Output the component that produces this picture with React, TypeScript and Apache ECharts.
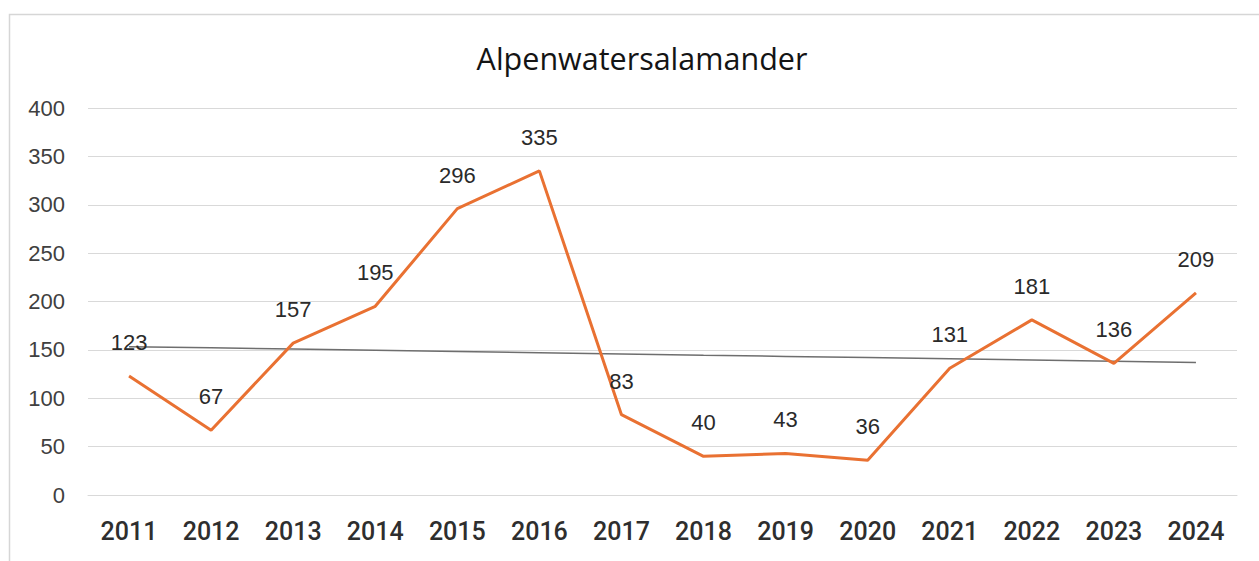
import React, { useEffect, useRef } from "react";
import * as echarts from "echarts";

const title = "Alpenwatersalamander";
const years = ["2011", "2012", "2013", "2014", "2015", "2016", "2017", "2018", "2019", "2020", "2021", "2022", "2023", "2024"];
const counts = [123, 67, 157, 195, 296, 335, 83, 40, 43, 36, 131, 181, 136, 209];
const yTicks = { min: 0, max: 400, interval: 50 };

// linear trendline (least squares) from the data
function trend(values: number[]): number[] {
  const n = values.length;
  const xs = values.map((_, i) => i + 1);
  const mx = xs.reduce((a, b) => a + b, 0) / n;
  const my = values.reduce((a, b) => a + b, 0) / n;
  let sxy = 0, sxx = 0;
  for (let i = 0; i < n; i++) {
    sxy += (xs[i] - mx) * (values[i] - my);
    sxx += (xs[i] - mx) * (xs[i] - mx);
  }
  const b = sxy / sxx;
  const a = my - b * mx;
  return xs.map((x) => +(a + b * x).toFixed(2));
}

export default function App() {
  const ref = useRef<HTMLDivElement>(null);
  useEffect(() => {
    if (!ref.current) return;
    const chart = echarts.init(ref.current, undefined, { renderer: "svg" });
    const numFont = "'Liberation Sans', Arial, sans-serif";
    chart.setOption({
      animation: false,
      backgroundColor: "#ffffff",
      title: {
        text: title,
        left: 637,
        top: 37,
        textAlign: "center",
        textStyle: { fontFamily: "'Open Sans', sans-serif", fontSize: 30.5, fontWeight: 500, color: "#141414" },
      },
      graphic: [
        {
          type: "rect",
          left: 7,
          top: 12,
          shape: { width: 1300, height: 600 },
          style: { fill: "none", stroke: "#d6d6d6", lineWidth: 1.5 },
          silent: true,
        },
      ],
      grid: { left: 88, right: 22, top: 108, bottom: 66, containLabel: false },
      xAxis: {
        type: "category",
        data: years,
        boundaryGap: true,
        axisLine: { show: true, lineStyle: { color: "#d9d9d9", width: 1 } },
        axisTick: { show: false },
        axisLabel: { margin: 24, fontFamily: "Roboto, sans-serif", fontSize: 25, fontWeight: 500, color: "#2e2e2e" },
      },
      yAxis: {
        type: "value",
        min: yTicks.min,
        max: yTicks.max,
        interval: yTicks.interval,
        axisLine: { show: false },
        axisTick: { show: false },
        splitLine: { lineStyle: { color: "#d9d9d9", width: 1 } },
        axisLabel: { margin: 23, fontFamily: numFont, fontSize: 22, color: "#404040" },
      },
      series: [
        {
          name: "Trend",
          type: "line",
          data: trend(counts),
          showSymbol: false,
          lineStyle: { color: "#6e6e6e", width: 1.5 },
          z: 2,
          silent: true,
        },
        {
          name: title,
          type: "line",
          data: counts,
          showSymbol: true,
          symbol: "circle",
          symbolSize: 1,
          itemStyle: { color: "#E97132", opacity: 0 },
          lineStyle: { color: "#E97132", width: 3, opacity: 1 },
          label: {
            show: true,
            position: "top",
            distance: 22,
            fontFamily: numFont,
            fontSize: 22,
            color: "#2a2a2a",
            opacity: 1,
          },
          z: 3,
        },
      ],
    });
    return () => chart.dispose();
  }, []);
  return (
    <div
      ref={ref}
      style={{ position: "fixed", left: 0, top: 0, width: 1259, height: 561 }}
    />
  );
}
